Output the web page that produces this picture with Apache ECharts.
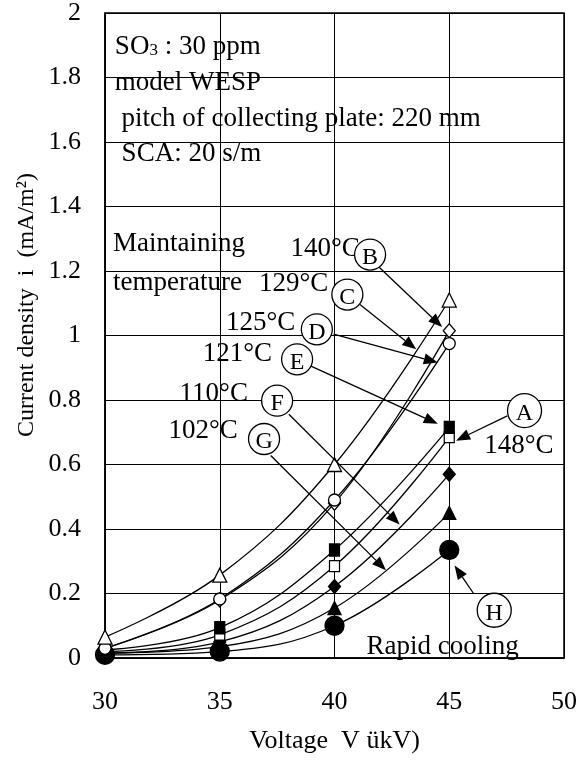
<!DOCTYPE html>
<html><head><meta charset="utf-8">
<script src="https://cdn.jsdelivr.net/npm/echarts@6/dist/echarts.min.js"></script>
<style>html,body{margin:0;padding:0;background:#fff}#c{width:580px;height:760px}</style>
</head><body><div id="c"></div>
<script>
// ---- data ----
const voltage = [30, 35, 40, 45];
const xMin = 30, xMax = 50, xStep = 5;
const yMin = 0, yMax = 2, yStep = 0.2;
const curB = [0.065, 0.257, 0.60, 1.11];   // 140°C, open triangle
const curC = [0.03, 0.18, 0.48, 1.015];    // 129°C, open diamond
const curD = [0.03, 0.183, 0.49, 0.975];   // 125°C, open circle
const curE = [0.025, 0.094, 0.335, 0.715]; // 121°C, filled square
const curA = [0.02, 0.072, 0.285, 0.685];  // 148°C, open square
const curF = [0.015, 0.05, 0.222, 0.57];   // 110°C, filled diamond
const curG = [0.015, 0.035, 0.155, 0.45];  // 102°C, filled triangle
const curH = [0.01, 0.02, 0.10, 0.335];    // rapid cooling, filled circle
const seriesNames = ['B 140°C', 'C 129°C', 'D 125°C', 'E 121°C', 'A 148°C', 'F 110°C', 'G 102°C', 'H Rapid cooling'];

// annotation texts (data coords)
const noteTexts = ['SO|3| : 30 ppm', 'model WESP', ' pitch of collecting plate: 220 mm', ' SCA: 20 s/m',
  'Maintaining', 'temperature', '140°C', '129°C', '125°C', '121°C', '110°C', '102°C', '148°C', 'Rapid cooling'];
const noteX = [30.43, 30.43, 30.43, 30.43, 30.35, 30.35, 38.08, 36.71, 35.27, 34.26, 33.25, 32.77, 46.52, 41.39];
const noteY = [1.895, 1.784, 1.672, 1.564, 1.283, 1.162, 1.267, 1.159, 1.039, 0.943, 0.819, 0.705, 0.658, 0.034];

const circleLetters = ['B', 'C', 'D', 'E', 'F', 'G', 'A', 'H'];
const circleX = [41.55, 40.56, 39.23, 38.37, 37.50, 36.93, 48.28, 46.96];
const circleY = [1.251, 1.127, 1.019, 0.926, 0.798, 0.679, 0.767, 0.148];

const arrowFromX = [41.9, 41.11, 39.96, 38.95, 38.01, 37.22, 47.53, 46.06];
const arrowFromY = [1.215, 1.096, 1.004, 0.906, 0.756, 0.628, 0.751, 0.200];
const arrowToX = [44.69, 43.56, 44.50, 44.50, 42.84, 42.24, 45.30, 45.23];
const arrowToY = [1.026, 0.957, 0.916, 0.726, 0.414, 0.272, 0.674, 0.287];

// ---- chart ----
const FONT = 'Liberation Serif';
const chart = echarts.init(document.getElementById('c'), null, {renderer: 'canvas'});

function pairs(vals) { return voltage.map((v, i) => [v, vals[i]]); }
function mk(name, vals, symbol, size, filled, z) {
  return {
    name: name, type: 'line', data: pairs(vals), smooth: 0.4,
    symbol: symbol, symbolSize: size, showSymbol: true, z: z,
    lineStyle: {color: '#000', width: 1.3},
    itemStyle: {color: filled ? '#000' : '#fff', borderColor: '#000', borderWidth: 1.3},
    animation: false, silent: true
  };
}

const series = [
  mk(seriesNames[7], curH, 'circle', 19, true, 2),
  mk(seriesNames[6], curG, 'triangle', 13, true, 3),
  mk(seriesNames[5], curF, 'diamond', [12, 14], true, 4),
  mk(seriesNames[4], curA, 'rect', [10, 11], false, 5),
  mk(seriesNames[3], curE, 'rect', [10, 12], true, 6),
  mk(seriesNames[1], curC, 'diamond', [12, 14], false, 7),
  mk(seriesNames[2], curD, 'circle', 12, false, 8),
  mk(seriesNames[0], curB, 'triangle', 14, false, 9)
];

const axisText = {color: '#000', fontFamily: FONT, fontSize: 26};
chart.setOption({
  backgroundColor: '#fff',
  animation: false,
  grid: {left: 105, right: 13, top: 11, bottom: 102, containLabel: false,
         show: true, borderColor: '#000', borderWidth: 1.5},
  xAxis: {
    type: 'value', min: xMin, max: xMax, interval: xStep,
    axisLine: {show: true, onZero: false, lineStyle: {color: '#000', width: 1.5}},
    axisTick: {show: true, inside: true, length: 5, lineStyle: {color: '#000'}},
    splitLine: {show: true, lineStyle: {color: '#000', width: 1}},
    axisLabel: Object.assign({margin: 31}, axisText),
    name: 'Voltage  V ükV)', nameLocation: 'middle', nameGap: 70,
    nameTextStyle: {color: '#000', fontFamily: FONT, fontSize: 26}
  },
  yAxis: {
    type: 'value', min: yMin, max: yMax, interval: yStep,
    axisLine: {show: true, onZero: false, lineStyle: {color: '#000', width: 1.5}},
    axisTick: {show: true, inside: true, length: 5, lineStyle: {color: '#000'}},
    splitLine: {show: true, lineStyle: {color: '#000', width: 1}},
    axisLabel: Object.assign({margin: 24}, axisText)
  },
  series: series
});

// annotations in data coordinates
const toPx = (x, y) => chart.convertToPixel({xAxisIndex: 0, yAxisIndex: 0}, [x, y]);
const graphics = [];
const NOTE_SIZE = 27;
noteTexts.forEach((t, i) => {
  const p = toPx(noteX[i], noteY[i]);
  let style;
  if (t.indexOf('|') >= 0) {
    const parts = t.split('|');
    style = {
      text: '{a|' + parts[0] + '}{s|' + parts[1] + '}{a|' + parts[2] + '}',
      rich: {
        a: {fontFamily: FONT, fontSize: NOTE_SIZE, fill: '#000'},
        s: {fontFamily: FONT, fontSize: 17, fill: '#000', padding: [8, 0, 0, 0]}
      },
      x: p[0], y: p[1], align: 'left', verticalAlign: 'middle'
    };
  } else {
    style = {text: t, fontFamily: FONT, fontSize: NOTE_SIZE, fill: '#000', x: p[0], y: p[1], align: 'left', verticalAlign: 'middle'};
  }
  graphics.push({type: 'text', silent: true, z: 20, style: style});
});
// arrows
arrowFromX.forEach((fx, i) => {
  const a = toPx(fx, arrowFromY[i]);
  const b = toPx(arrowToX[i], arrowToY[i]);
  const dx = b[0] - a[0], dy = b[1] - a[1];
  const len = Math.sqrt(dx * dx + dy * dy);
  const ux = dx / len, uy = dy / len;
  const hl = 14, hw = 5.5;
  const bx = b[0] - ux * hl, by = b[1] - uy * hl;
  graphics.push({type: 'line', silent: true, z: 19, shape: {x1: a[0], y1: a[1], x2: bx, y2: by},
    style: {stroke: '#000', lineWidth: 1.3}});
  graphics.push({type: 'polygon', silent: true, z: 19,
    shape: {points: [[b[0], b[1]], [bx - uy * hw, by + ux * hw], [bx + uy * hw, by - ux * hw]]},
    style: {fill: '#000'}});
});
circleLetters.forEach((L, i) => {
  const p = toPx(circleX[i], circleY[i]);
  const r = (L === 'A' || L === 'H') ? 17 : 15.5;
  graphics.push({type: 'circle', silent: true, z: 21, shape: {cx: p[0], cy: p[1], r: r},
    style: {fill: '#fff', stroke: '#000', lineWidth: 1.3}});
  graphics.push({type: 'text', silent: true, z: 22,
    style: {text: L, fontFamily: FONT, fontSize: 24, fill: '#000', x: p[0], y: p[1] + 3, align: 'center', verticalAlign: 'middle'}});
});
// y-axis title
graphics.push({type: 'text', silent: true, z: 20, x: 27, y: 305, rotation: Math.PI / 2,
  style: {text: 'Current density  i  (mA/m²)', fontFamily: FONT, fontSize: 24, fill: '#000', align: 'center', verticalAlign: 'middle'}});
chart.setOption({graphic: graphics});
</script>
</body></html>
